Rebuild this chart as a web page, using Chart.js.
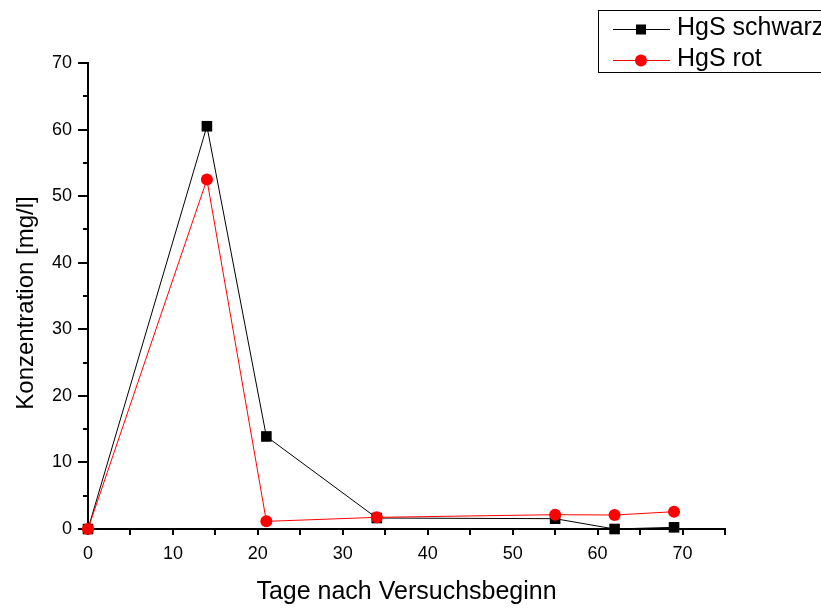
<!DOCTYPE html>
<html>
<head>
<meta charset="utf-8">
<script src="https://cdn.jsdelivr.net/npm/chart.js@4"></script>
<style>
  html, body { margin: 0; padding: 0; background: #fff; }
  #wrap { position: relative; width: 821px; height: 608px; }
</style>
</head>
<body>
<div id="wrap"><canvas id="chart" width="821" height="608"></canvas></div>
<script>
// DATA
const days = [0, 14, 21, 34, 55, 62, 69];
const hgsSchwarz = [0, 60.5, 13.9, 1.65, 1.55, 0, 0.25];
const hgsRot = [0, 52.5, 1.15, 1.75, 2.15, 2.1, 2.6];
const seriesLabels = ["HgS schwarz", "HgS rot"];
const xLabel = "Tage nach Versuchsbeginn";
const yLabel = "Konzentration [mg/l]";

const FONT = '"Liberation Sans", Arial, sans-serif';

function toPoints(ys) {
  return days.map((d, i) => ({ x: d, y: ys[i] }));
}

// outside ticks: x every 5, y major 10 / minor 5
const tickMarks = {
  id: "tickMarks",
  beforeDatasetsDraw(chart) {
    const ctx = chart.ctx;
    const x = chart.scales.x, y = chart.scales.y;
    ctx.save();
    ctx.strokeStyle = "#000";
    ctx.lineWidth = 2;
    ctx.beginPath();
    x.ticks.forEach(t => {
      const px = Math.round(x.getPixelForValue(t.value));
      ctx.moveTo(px, x.top);
      ctx.lineTo(px, x.top + 6);
    });
    y.ticks.forEach(t => {
      const py = Math.round(y.getPixelForValue(t.value));
      const len = t.value % 10 === 0 ? 10 : 5;
      ctx.moveTo(y.right, py);
      ctx.lineTo(y.right - len, py);
    });
    ctx.stroke();

    // y title, a bit below the middle like the original
    ctx.translate(26, 303);
    ctx.rotate(-Math.PI / 2);
    ctx.fillStyle = "#000";
    ctx.font = "24px " + FONT;
    ctx.textAlign = "center";
    ctx.textBaseline = "middle";
    ctx.fillText(yLabel, 0, 0);
    ctx.restore();
  }
};

// boxed legend in the top right corner (runs off the edge like the original)
const legendBox = {
  id: "legendBox",
  afterDraw(chart) {
    const ctx = chart.ctx;
    ctx.save();
    ctx.lineWidth = 1;
    ctx.strokeStyle = "#000";
    ctx.strokeRect(598.5, 10.5, 260, 62);
    chart.data.datasets.forEach((ds, i) => {
      const cy = 29.5 + i * 31;
      ctx.strokeStyle = ds.borderColor;
      ctx.lineWidth = 1;
      ctx.beginPath();
      ctx.moveTo(613, cy);
      ctx.lineTo(670, cy);
      ctx.stroke();
      ctx.fillStyle = ds.pointBackgroundColor;
      if (ds.pointStyle === "rect") {
        ctx.fillRect(636, cy - 5, 10, 10);
      } else {
        ctx.beginPath();
        ctx.arc(641, cy, 6, 0, Math.PI * 2);
        ctx.fill();
      }
      ctx.fillStyle = "#000";
      ctx.font = "25px " + FONT;
      ctx.textBaseline = "middle";
      ctx.fillText(ds.label, 677, cy - 1);
    });
    ctx.restore();
  }
};

new Chart(document.getElementById("chart"), {
  type: "scatter",
  data: {
    datasets: [
      {
        label: seriesLabels[0],
        data: toPoints(hgsSchwarz),
        showLine: true,
        borderColor: "#000",
        borderWidth: 1,
        pointStyle: "rect",
        pointRadius: 7.5,
        pointBackgroundColor: "#000",
        pointBorderColor: "#000",
        pointBorderWidth: 0,
        clip: false,
        order: 1
      },
      {
        label: seriesLabels[1],
        data: toPoints(hgsRot),
        showLine: true,
        borderColor: "#ff0000",
        borderWidth: 1,
        pointStyle: "circle",
        pointRadius: 6,
        pointBackgroundColor: "#ff0000",
        pointBorderColor: "#ff0000",
        pointBorderWidth: 0,
        clip: false,
        order: 0
      }
    ]
  },
  options: {
    responsive: false,
    animation: false,
    devicePixelRatio: 1,
    layout: { padding: { top: 63, right: 96, left: 0, bottom: 0 } },
    plugins: { legend: { display: false }, tooltip: { enabled: false } },
    scales: {
      x: {
        type: "linear",
        min: 0,
        max: 75,
        afterFit: s => { s.height = 79; },
        border: { display: true, color: "#000", width: 2 },
        grid: { display: false, drawTicks: false },
        ticks: {
          stepSize: 5,
          autoSkip: false,
          maxRotation: 0,
          padding: 14,
          color: "#000",
          font: { family: FONT, size: 18 },
          callback: v => (v % 10 === 0 ? v : "")
        },
        title: {
          display: true,
          text: xLabel,
          color: "#000",
          font: { family: FONT, size: 25 },
          padding: { top: 0, bottom: 1 }
        }
      },
      y: {
        type: "linear",
        min: 0,
        max: 70,
        afterFit: s => { s.width = 88; },
        border: { display: true, color: "#000", width: 2 },
        grid: { display: false, drawTicks: false },
        ticks: {
          stepSize: 5,
          autoSkip: false,
          padding: 16,
          color: "#000",
          font: { family: FONT, size: 18 },
          callback: v => (v % 10 === 0 ? v : "")
        },
        title: { display: false }
      }
    }
  },
  plugins: [tickMarks, legendBox]
});
</script>
</body>
</html>
